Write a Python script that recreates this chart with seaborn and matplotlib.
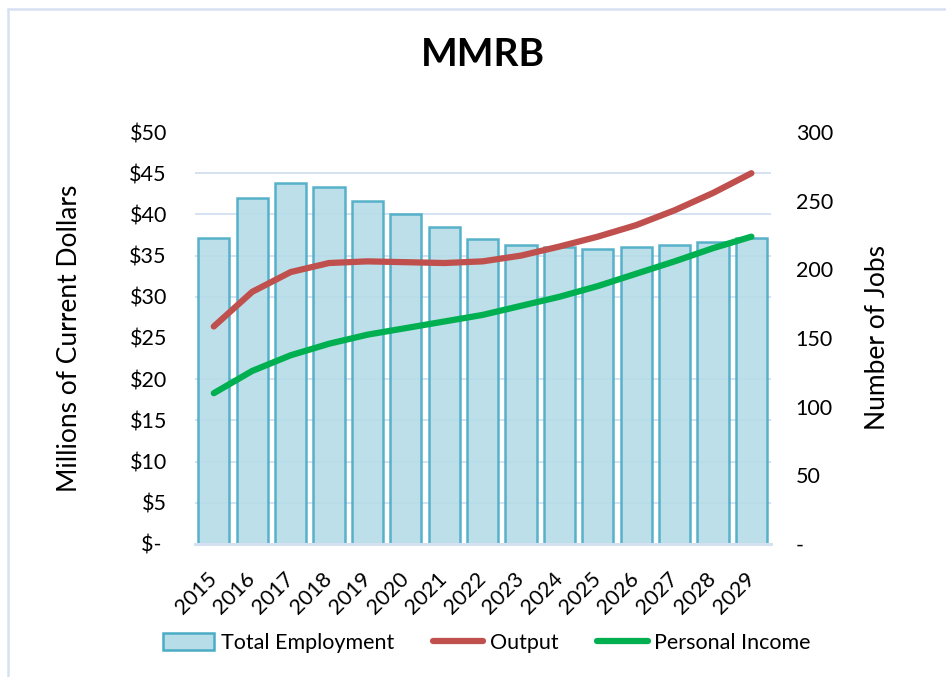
import numpy as np
import pandas as pd
import matplotlib.pyplot as plt
import seaborn as sns
from matplotlib.ticker import MultipleLocator, FuncFormatter
from matplotlib.lines import Line2D
from matplotlib.patches import Patch

years = ["2015", "2016", "2017", "2018", "2019", "2020", "2021", "2022",
         "2023", "2024", "2025", "2026", "2027", "2028", "2029"]
jobs = [223, 252, 263, 260, 250, 240, 231, 222, 218, 216, 215, 216, 218, 220, 223]
output = [26.4, 30.6, 33.0, 34.1, 34.3, 34.2, 34.1, 34.3, 35.0, 36.1, 37.3, 38.7, 40.5, 42.6, 45.0]
income = [18.3, 21.0, 22.9, 24.3, 25.4, 26.2, 27.0, 27.8, 28.9, 30.0, 31.3, 32.8, 34.3, 35.9, 37.3]

sns.set_theme(style="white")
plt.rcParams['font.family'] = ['Lato', 'DejaVu Sans']
plt.rcParams['text.color'] = 'black'

BAR_FILL = "#b7dde8"
BAR_EDGE = "#4bacc6"
RED = "#c0504d"
GREEN = "#00b050"
GRID = "#d5e1f1"

df = pd.DataFrame({"Year": years, "Jobs": jobs, "Output": output, "Income": income})
df["pos"] = np.arange(len(df))

fig = plt.figure(figsize=(9.46, 6.77), dpi=100)
ax_jobs = fig.add_axes([0.2057, 0.1965, 0.6089, 0.6085])
ax_usd = ax_jobs.twinx()

# bars -> jobs (right scale), drawn underneath
sns.barplot(data=df, x="Year", y="Jobs", ax=ax_jobs, color=BAR_FILL,
            edgecolor=BAR_EDGE, linewidth=1.8, width=0.81, saturation=1, alpha=0.92)
ax_jobs.set_ylim(0, 300)
ax_jobs.set_xlim(-0.5, len(years) - 0.5)
ax_jobs.yaxis.set_major_locator(MultipleLocator(50))
ax_jobs.yaxis.set_major_formatter(FuncFormatter(lambda v, p: "-" if v == 0 else f"{v:.0f}"))
ax_jobs.yaxis.tick_right()
ax_jobs.yaxis.set_label_position("right")
# grid at the $5 steps of the left scale (30 jobs = $5)
ax_jobs.yaxis.set_minor_locator(MultipleLocator(30))
ax_jobs.set_axisbelow(True)
ax_jobs.grid(which="minor", axis="y", color=GRID, linewidth=1.4)
ax_jobs.grid(which="major", visible=False)
ax_jobs.tick_params(which="minor", length=0, width=0)
ax_jobs.set_ylabel("Number of Jobs", fontsize=19, color="black")
ax_jobs.yaxis.set_label_coords(1.164, 0.5)
ax_jobs.set_xlabel(None)

# lines -> dollars (left scale)
sns.lineplot(data=df, x="pos", y="Output", ax=ax_usd, color=RED, linewidth=4.5)
sns.lineplot(data=df, x="pos", y="Income", ax=ax_usd, color=GREEN, linewidth=4.5)
for ln in ax_usd.lines:
    ln.set_solid_capstyle("round")
ax_usd.set_ylim(0, 50)
ax_usd.yaxis.set_major_locator(MultipleLocator(5))
ax_usd.yaxis.set_major_formatter(FuncFormatter(lambda v, p: "$- " if v == 0 else f"${v:.0f}"))
ax_usd.yaxis.tick_left()
ax_usd.yaxis.set_label_position("left")
ax_usd.set_ylabel("Millions of Current Dollars", fontsize=19, color="black")
ax_usd.yaxis.set_label_coords(-0.195, 0.5)
ax_usd.set_xlabel(None)
ax_usd.grid(False)

for a in (ax_jobs, ax_usd):
    for s in a.spines.values():
        s.set_visible(False)
    a.tick_params(axis="x", length=0)
ax_usd.tick_params(axis="y", length=0, labelsize=15.5, pad=20, colors="black")
ax_jobs.tick_params(axis="y", which="major", length=0, labelsize=15.5, pad=18, colors="black")
ax_jobs.spines["bottom"].set_visible(True)
ax_jobs.spines["bottom"].set_color(GRID)
ax_jobs.spines["bottom"].set_linewidth(2.2)

ax_jobs.set_xticks(range(len(years)))
ax_jobs.set_xticklabels(years, rotation=45, ha="right", va="center",
                        rotation_mode="anchor", fontsize=15.5, color="black")
ax_jobs.tick_params(axis="x", pad=23)

fig.text(482.6 / 946, 1 - 55 / 677, "MMRB", ha="center", va="center",
         fontsize=28, fontweight="bold", color="black")

handles = [Patch(facecolor=BAR_FILL, edgecolor=BAR_EDGE, linewidth=1.8),
           Line2D([], [], color=RED, linewidth=4.5, solid_capstyle="round"),
           Line2D([], [], color=GREEN, linewidth=4.5, solid_capstyle="round")]
fig.legend(handles, ["Total Employment", "Output", "Personal Income"],
           loc="center", bbox_to_anchor=(487 / 946, 1 - 643 / 677), ncol=3,
           frameon=False, fontsize=15.5, handlelength=2.35, handleheight=0.85,
           handletextpad=0.3, columnspacing=1.8)

# light frame around the chart
fig.add_artist(Line2D([7.5 / 946, 1], [1 - 8.5 / 677] * 2, color=GRID, linewidth=1.8))
fig.add_artist(Line2D([7.5 / 946] * 2, [0, 1 - 8.5 / 677], color=GRID, linewidth=1.8))

fig.savefig("out.png", dpi=100)
